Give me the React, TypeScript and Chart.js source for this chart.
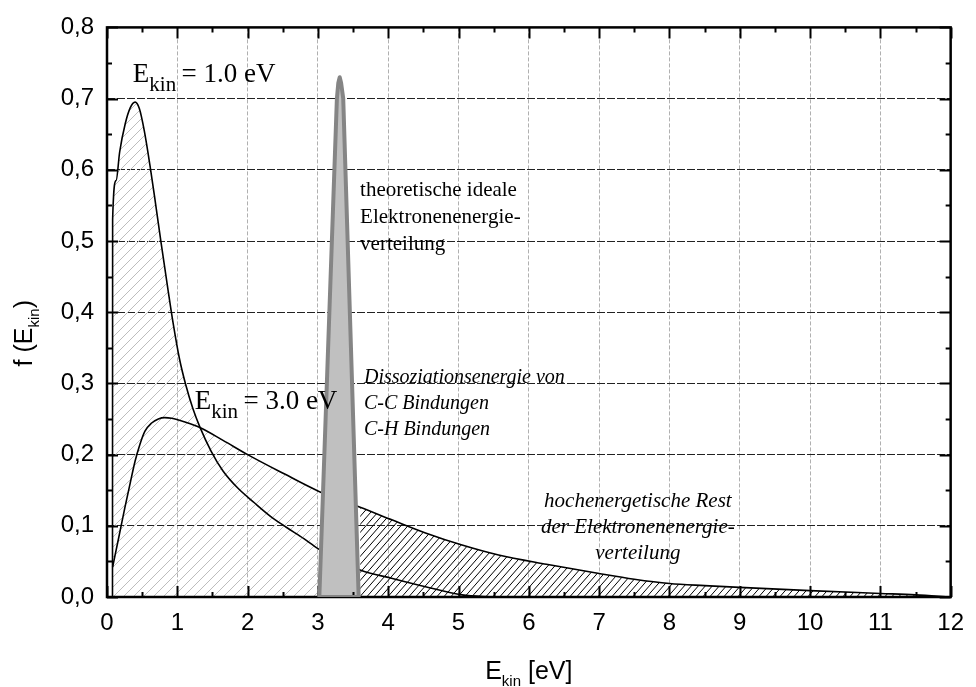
import React, { useEffect, useRef } from 'react';
import { Chart, registerables } from 'chart.js';

Chart.register(...registerables);

// ---- data ----
// Electron energy distribution, mean E_kin = 1.0 eV
const curve1X = [0.078, 0.08, 0.13, 0.18, 0.26, 0.33, 0.40, 0.46, 0.53, 0.61, 0.69, 0.77, 0.87, 0.94, 1.03, 1.12, 1.22, 1.32, 1.48, 1.65, 1.86, 2.1, 2.33, 2.55, 2.8, 3.0, 3.3, 3.6, 4.06, 4.53, 5.05, 5.5];
const curve1Y = [0.0, 0.53, 0.585, 0.625, 0.665, 0.687, 0.695, 0.686, 0.655, 0.607, 0.553, 0.497, 0.43, 0.385, 0.335, 0.298, 0.265, 0.239, 0.205, 0.177, 0.153, 0.132, 0.113, 0.098, 0.082, 0.068, 0.052, 0.038, 0.026, 0.0144, 0.003, 0.0];
// Electron energy distribution, mean E_kin = 3.0 eV
const curve2X = [0.08, 0.17, 0.255, 0.33, 0.40, 0.47, 0.54, 0.63, 0.73, 0.82, 0.92, 1.1, 1.32, 1.65, 2.0, 2.52, 3.0, 3.3, 3.6, 4.06, 4.53, 5.05, 5.57, 6.25, 7.0, 7.5, 8.0, 8.5, 9.0, 10.0, 11.0, 11.5, 12.0];
const curve2Y = [0.042, 0.085, 0.126, 0.16, 0.191, 0.215, 0.233, 0.244, 0.25, 0.252, 0.251, 0.246, 0.238, 0.22, 0.2, 0.173, 0.149, 0.137, 0.126, 0.108, 0.09, 0.073, 0.059, 0.046, 0.033, 0.025, 0.019, 0.016, 0.0135, 0.009, 0.005, 0.003, 0.0];
// Theoretical ideal electron energy distribution (narrow peak)
const spikeX = [3.02, 3.27, 3.29, 3.31, 3.33, 3.36, 3.58];
const spikeY = [0.0, 0.70, 0.722, 0.73, 0.722, 0.70, 0.0];

// ranges of the hatched areas
const lowHatchMaxX = 3.0;   // light hatching: 0 .. 3 eV
const highHatchMinX = 3.6;  // dark hatching: 3.6 .. 12 eV

// axes
const xTicks = [0, 1, 2, 3, 4, 5, 6, 7, 8, 9, 10, 11, 12];
const yTickLabels = ['0,0', '0,1', '0,2', '0,3', '0,4', '0,5', '0,6', '0,7', '0,8'];

// texts
const label1 = { main: 'E', sub: 'kin', rest: '\u2009= 1.0 eV' };
const label2 = { main: 'E', sub: 'kin', rest: '\u2009= 3.0 eV' };
const idealLines = ['theoretische ideale', 'Elektronenenergie-', 'verteilung'];
const dissLines = ['Dissoziationsenergie von', 'C-C Bindungen', 'C-H Bindungen'];
const restLines = ['hochenergetische Rest', 'der Elektronenenergie-', 'verteilung'];

const toPts = (xs: number[], ys: number[]) => xs.map((x, i) => ({ x, y: ys[i] }));

function makeHatch(ctx: CanvasRenderingContext2D, w: number, h: number, color: string, lw: number) {
  const c = document.createElement('canvas');
  c.width = w;
  c.height = h;
  const g = c.getContext('2d')!;
  g.strokeStyle = color;
  g.lineWidth = lw;
  g.beginPath();
  g.moveTo(0, h);
  g.lineTo(w, 0);
  g.moveTo(-w, h);
  g.lineTo(0, 0);
  g.moveTo(w, h);
  g.lineTo(2 * w, 0);
  g.stroke();
  return ctx.createPattern(c, 'repeat')!;
}

type Part = { t: string; font: string; dy?: number };

function drawRich(ctx: CanvasRenderingContext2D, parts: Part[], x: number, y: number, align: 'left' | 'center' = 'left') {
  let total = 0;
  for (const p of parts) {
    ctx.font = p.font;
    total += ctx.measureText(p.t).width;
  }
  let cx = align === 'center' ? x - total / 2 : x;
  ctx.textAlign = 'left';
  ctx.textBaseline = 'alphabetic';
  for (const p of parts) {
    ctx.font = p.font;
    ctx.fillText(p.t, cx, y + (p.dy || 0));
    cx += ctx.measureText(p.t).width;
  }
}

const SERIF = '"Liberation Serif", "Times New Roman", serif';
const SANS = '"Liberation Sans", Arial, sans-serif';

const decorPlugin = {
  id: 'decor',
  beforeDatasetDraw(chart: any, args: any) {
    if (args.index !== 0) return;
    const { ctx, chartArea: a, scales } = chart;
    const xs = scales.x;
    const ys = scales.y;
    ctx.save();
    ctx.strokeStyle = '#000';
    ctx.lineWidth = 2;
    ctx.beginPath();
    for (let v = xs.min; v <= xs.max + 1e-9; v += 0.5) {
      const px = Math.round(xs.getPixelForValue(v)) + 0.5;
      const len = Math.abs(v - Math.round(v)) < 1e-6 ? 11 : 5;
      ctx.moveTo(px, a.bottom);
      ctx.lineTo(px, a.bottom - len);
      ctx.moveTo(px, a.top);
      ctx.lineTo(px, a.top + len);
    }
    for (let v = ys.min; v <= ys.max + 1e-9; v += 0.05) {
      const py = Math.round(ys.getPixelForValue(v)) + 0.5;
      const major = Math.abs(v * 10 - Math.round(v * 10)) < 1e-6;
      const len = major ? 11 : 5;
      ctx.moveTo(a.left, py);
      ctx.lineTo(a.left + len, py);
      ctx.moveTo(a.right, py);
      ctx.lineTo(a.right - len, py);
    }
    ctx.stroke();
    ctx.lineWidth = 2.5;
    ctx.strokeRect(a.left, a.top, a.right - a.left, a.bottom - a.top);
    ctx.restore();
  },
  afterDraw(chart: any) {
    const { ctx, chartArea: a, scales } = chart;
    const xs = scales.x;
    const ys = scales.y;
    const X = (v: number) => xs.getPixelForValue(v);
    const Y = (v: number) => ys.getPixelForValue(v);
    ctx.save();
    ctx.fillStyle = '#000';

    // curve labels
    const big = `27px ${SERIF}`;
    const small = `21px ${SERIF}`;
    drawRich(ctx, [
      { t: label1.main, font: big },
      { t: label1.sub, font: small, dy: 8.5 },
      { t: label1.rest, font: big },
    ], X(0.368), Y(0.723));
    drawRich(ctx, [
      { t: label2.main, font: big },
      { t: label2.sub, font: small, dy: 8.5 },
      { t: label2.rest, font: big },
    ], X(1.247), Y(0.264));

    // theoretische ideale ...
    ctx.font = `21px ${SERIF}`;
    ctx.textAlign = 'left';
    ctx.textBaseline = 'alphabetic';
    idealLines.forEach((s, i) => ctx.fillText(s, X(3.6), Y(0.5627) + i * 26.7));

    // Dissoziationsenergie ...
    ctx.font = `italic 20px ${SERIF}`;
    dissLines.forEach((s, i) => ctx.fillText(s, X(3.655), Y(0.3006) + i * 25.8));

    // hochenergetische Rest ...
    ctx.font = `italic 21px ${SERIF}`;
    ctx.textAlign = 'center';
    restLines.forEach((s, i) => ctx.fillText(s, X(7.551), Y(0.126) + i * 25.8));

    // axis titles
    const tf = `25px ${SANS}`;
    const ts = `15px ${SANS}`;
    drawRich(ctx, [
      { t: 'E', font: tf },
      { t: 'kin', font: ts, dy: 7 },
      { t: ' [eV]', font: tf },
    ], (a.left + a.right) / 2, a.bottom + 82, 'center');

    ctx.save();
    ctx.translate(a.left - 75, (a.top + a.bottom) / 2 + 21);
    ctx.rotate(-Math.PI / 2);
    drawRich(ctx, [
      { t: 'f (E', font: tf },
      { t: 'kin', font: ts, dy: 7 },
      { t: ')', font: tf },
    ], 0, 0, 'center');
    ctx.restore();

    ctx.restore();
  },
};

export default function App() {
  const ref = useRef<HTMLCanvasElement>(null);

  useEffect(() => {
    const canvas = ref.current!;
    const ctx = canvas.getContext('2d')!;
    const lightHatch = makeHatch(ctx, 10, 10, '#bdbdbd', 1);
    const darkHatch = makeHatch(ctx, 7, 8, '#000', 1);

    const c1 = toPts(curve1X, curve1Y);
    const c2 = toPts(curve2X, curve2Y);
    const spike = toPts(spikeX, spikeY);

    const chart = new Chart(ctx, {
      type: 'line',
      data: {
        datasets: [
          {
            // outline of the ideal distribution (closed along the base)
            data: [...spike, spike[0]],
            borderColor: '#858585',
            borderWidth: 4,
            borderJoinStyle: 'round',
            fill: false,
            tension: 0,
            pointRadius: 0,
          },
          {
            // fill of the ideal distribution
            data: spike,
            borderColor: 'rgba(0,0,0,0)',
            borderWidth: 0,
            backgroundColor: '#c0c0c0',
            fill: 'origin',
            tension: 0,
            pointRadius: 0,
          },
          {
            data: c1,
            borderColor: '#000',
            borderWidth: 1.6,
            fill: false,
            cubicInterpolationMode: 'monotone',
            pointRadius: 0,
          },
          {
            data: c2,
            borderColor: '#000',
            borderWidth: 1.6,
            fill: false,
            cubicInterpolationMode: 'monotone',
            pointRadius: 0,
          },
          {
            data: c2.filter((p) => p.x >= highHatchMinX),
            borderColor: 'rgba(0,0,0,0)',
            borderWidth: 0,
            backgroundColor: darkHatch,
            fill: 'origin',
            cubicInterpolationMode: 'monotone',
            pointRadius: 0,
          },
          {
            data: c1.filter((p) => p.x <= lowHatchMaxX),
            borderColor: 'rgba(0,0,0,0)',
            borderWidth: 0,
            backgroundColor: lightHatch,
            fill: 'origin',
            cubicInterpolationMode: 'monotone',
            pointRadius: 0,
          },
          {
            data: c2.filter((p) => p.x <= lowHatchMaxX),
            borderColor: 'rgba(0,0,0,0)',
            borderWidth: 0,
            backgroundColor: lightHatch,
            fill: 'origin',
            cubicInterpolationMode: 'monotone',
            pointRadius: 0,
          },
        ],
      },
      options: {
        responsive: false,
        animation: false,
        devicePixelRatio: 1,
        layout: { padding: { top: 24, right: 22, left: 0, bottom: 0 } },
        plugins: { legend: { display: false }, tooltip: { enabled: false } },
        elements: { point: { radius: 0 } },
        scales: {
          x: {
            type: 'linear',
            min: 0,
            max: 12,
            afterFit: (s: any) => { s.height = 90; },
            afterBuildTicks: (s: any) => { s.ticks = xTicks.map((v) => ({ value: v })); },
            ticks: {
              color: '#000',
              font: { family: 'Liberation Sans', size: 24 },
              padding: 12,
              maxRotation: 0,
              autoSkip: false,
              callback: (v: any) => String(v),
            },
            grid: { color: '#b0b0b0', lineWidth: 1, drawTicks: false },
            border: { display: false, dash: [4, 2] },
          },
          y: {
            type: 'linear',
            min: 0,
            max: 0.8,
            afterFit: (s: any) => { s.width = 107; },
            afterBuildTicks: (s: any) => { s.ticks = yTickLabels.map((_, i) => ({ value: i / 10 })); },
            ticks: {
              color: '#000',
              font: { family: 'Liberation Sans', size: 24 },
              padding: 13,
              autoSkip: false,
              callback: (_v: any, i: number) => yTickLabels[i],
            },
            grid: { color: '#222', lineWidth: 1, drawTicks: false },
            border: { display: false, dash: [8, 2] },
          },
        },
      },
      plugins: [decorPlugin],
    } as any);

    return () => chart.destroy();
  }, []);

  return (
    <div style={{ position: 'fixed', left: 0, top: 0, width: 976, height: 687, background: '#fff' }}>
      <canvas ref={ref} width={976} height={687} style={{ display: 'block' }} />
    </div>
  );
}
